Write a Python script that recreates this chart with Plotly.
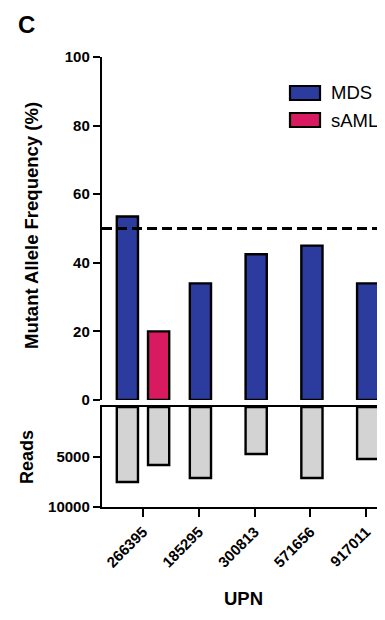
import plotly.graph_objects as go

upn = ["266395", "185295", "300813", "571656", "917011"]
mds_freq = [53.5, 34, 42.5, 45, 34]
saml_upn = ["266395"]
saml_freq = [20]
mds_reads = [7500, 7100, 4700, 7100, 5200]
saml_reads = [5800]
y_ticks = [0, 20, 40, 60, 80, 100]
reads_ticks = [5000, 10000]
threshold = 50
legend_names = ["MDS", "sAML"]

BLUE = "#2b3c9e"
PINK = "#d81b60"
GRAY = "#d3d3d3"
FONT = "Liberation Sans, Arial, sans-serif"

W = 0.38
fig = go.Figure()

def bar_style(color):
    return dict(marker=dict(color=color, line=dict(color="black", width=2.4)))

fig.add_trace(go.Bar(x=upn[:1], y=mds_freq[:1], width=W, offset=-0.47, name="MDS",
                     xaxis="x", yaxis="y", **bar_style(BLUE)))
fig.add_trace(go.Bar(x=saml_upn, y=saml_freq, width=W, offset=0.09, name="sAML",
                     xaxis="x", yaxis="y", **bar_style(PINK)))
fig.add_trace(go.Bar(x=upn[1:], y=mds_freq[1:], width=W, offset=-W / 2 + 0.03, name="MDS",
                     xaxis="x", yaxis="y", **bar_style(BLUE)))

fig.add_trace(go.Bar(x=upn[:1], y=mds_reads[:1], width=W, offset=-0.47,
                     name="MDS reads", xaxis="x2", yaxis="y2", **bar_style(GRAY)))
fig.add_trace(go.Bar(x=saml_upn, y=saml_reads, width=W, offset=0.09,
                     name="sAML reads", xaxis="x2", yaxis="y2", **bar_style(GRAY)))
fig.add_trace(go.Bar(x=upn[1:], y=mds_reads[1:], width=W, offset=-W / 2 + 0.03,
                     name="MDS reads", xaxis="x2", yaxis="y2", **bar_style(GRAY)))

# the page body keeps an 8px default margin; size the figure so nothing overflows
# and express positions in screen pixels
OFF = 8
WD, H = 385 - 2 * OFF, 620 - 2 * OFF
ML = 102 - OFF
MT = 57 - OFF
PB = 507 - OFF          # bottom of plot area in figure px
MB = H - PB
PW = WD - ML
PH = PB - MT

def px(sx):
    return (sx - OFF - ML) / PW

def py(sy):
    return (PB - (sy - OFF)) / PH

unit = 55.75
c0 = 143 - OFF - ML
xr = [-c0 / unit, (PW - c0) / unit]

tickfont = dict(family=FONT, size=15, color="black", weight="bold")
common_axis = dict(showline=True, linecolor="black", linewidth=2.4, ticks="outside",
                   ticklen=7, tickwidth=2.2, tickcolor="black", showgrid=False,
                   zeroline=False, tickfont=tickfont, automargin=False)

fig.update_layout(
    width=WD, height=H,
    margin=dict(l=ML, r=0, t=MT, b=MB, autoexpand=False),
    paper_bgcolor="white", plot_bgcolor="white",
    barmode="overlay", showlegend=False,
    font=dict(family=FONT, color="black"),
    xaxis=dict(domain=[0, 1], range=xr, type="category", categoryorder="array",
               categoryarray=upn, showline=False, showticklabels=False, ticks="",
               showgrid=False, zeroline=False, anchor="y", automargin=False),
    yaxis=dict(domain=[py(400), 1], range=[0, 100], tickvals=y_ticks, anchor="x",
               **common_axis),
    xaxis2=dict(domain=[0, 1], range=xr, type="category", categoryorder="array",
                categoryarray=upn, mirror=True, tickangle=-45, anchor="y2",
                **{**common_axis, "ticklen": 8}),
    yaxis2=dict(domain=[0, py(407)], range=[10000, 0], tickvals=reads_ticks,
                tickformat="d", anchor="x2", **common_axis),
    shapes=[
        dict(type="line", xref="x domain", yref="y", x0=0, x1=1, y0=threshold, y1=threshold,
             line=dict(color="black", width=3, dash="10px,5px")),
        dict(type="rect", xref="paper", yref="paper", x0=px(290), x1=px(320),
             y0=py(100), y1=py(86), fillcolor=BLUE, line=dict(color="black", width=2.2)),
        dict(type="rect", xref="paper", yref="paper", x0=px(290), x1=px(320),
             y0=py(127), y1=py(113), fillcolor=PINK, line=dict(color="black", width=2.2)),
    ],
    annotations=[
        dict(text="C", x=px(16), y=py(24), xref="paper", yref="paper",
             showarrow=False, xanchor="left", yanchor="middle",
             font=dict(family=FONT, size=24, color="black", weight="bold")),
        dict(text="Mutant Allele Frequency (%)", x=px(31), y=py(226),
             xref="paper", yref="paper", showarrow=False, textangle=-90,
             xanchor="center", yanchor="middle",
             font=dict(family=FONT, size=18.5, color="black", weight="bold")),
        dict(text="Reads", x=px(27), y=py(457),
             xref="paper", yref="paper", showarrow=False, textangle=-90,
             xanchor="center", yanchor="middle",
             font=dict(family=FONT, size=18, color="black", weight="bold")),
        dict(text="UPN", x=px(243), y=py(598),
             xref="paper", yref="paper", showarrow=False,
             xanchor="center", yanchor="middle",
             font=dict(family=FONT, size=18.5, color="black", weight="bold")),
        dict(text=legend_names[0], x=px(329), y=py(93), xref="paper", yref="paper",
             showarrow=False, xanchor="left", yanchor="middle",
             font=dict(family=FONT, size=18.5, color="black")),
        dict(text=legend_names[1], x=px(329), y=py(120), xref="paper", yref="paper",
             showarrow=False, xanchor="left", yanchor="middle",
             font=dict(family=FONT, size=18.5, color="black")),
    ],
)

fig.write_html("out.html")
